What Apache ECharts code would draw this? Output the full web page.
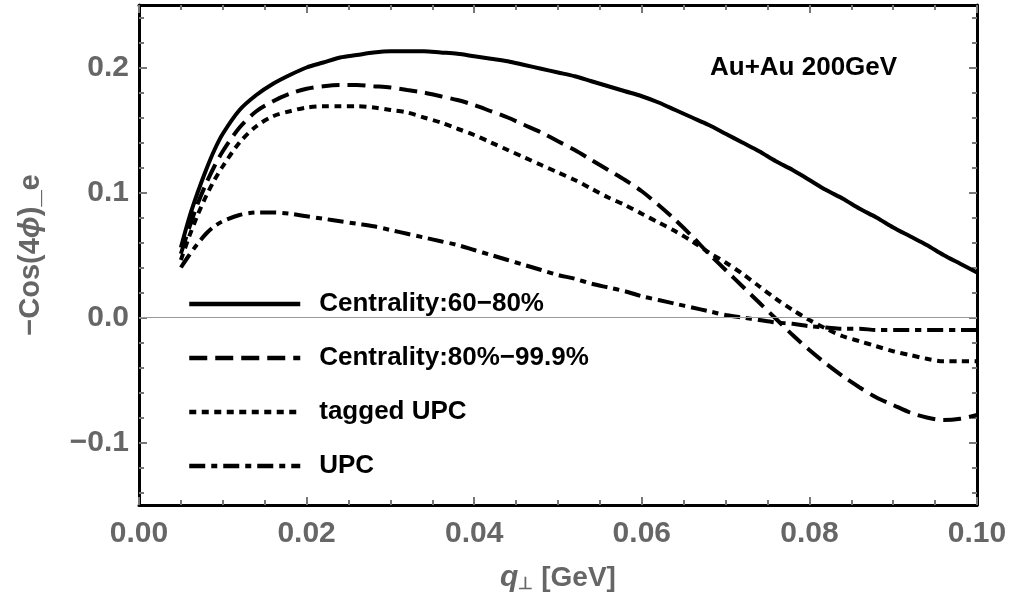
<!DOCTYPE html>
<html>
<head>
<meta charset="utf-8">
<script src="https://cdn.jsdelivr.net/npm/echarts@6/dist/echarts.min.js"></script>
<style>
html,body{margin:0;padding:0;background:#fff;}
#chart{width:1014px;height:604px;}
</style>
</head>
<body>
<div id="chart"></div>
<script>
// ---- data ----
var qValues = [0.005,0.006,0.007,0.008,0.009,0.010,0.012,0.014,0.016,0.018,0.020,0.022,0.024,0.026,0.028,0.030,0.032,0.034,0.036,0.038,0.040,0.042,0.044,0.046,0.048,0.050,0.052,0.054,0.056,0.058,0.060,0.062,0.064,0.066,0.068,0.070,0.072,0.074,0.076,0.078,0.080,0.082,0.084,0.086,0.088,0.090,0.092,0.094,0.096,0.098,0.100];

var central6080 = [0.056,0.080,0.100,0.118,0.134,0.147,0.166,0.178,0.187,0.194,0.200,0.204,0.208,0.210,0.212,0.213,0.213,0.213,0.212,0.211,0.209,0.207,0.205,0.202,0.199,0.196,0.193,0.189,0.185,0.181,0.177,0.172,0.166,0.160,0.154,0.147,0.140,0.133,0.125,0.118,0.110,0.102,0.095,0.087,0.080,0.072,0.065,0.058,0.050,0.043,0.036];

var central80999 = [0.051,0.072,0.091,0.107,0.121,0.133,0.152,0.165,0.173,0.179,0.183,0.185,0.186,0.186,0.185,0.184,0.182,0.180,0.177,0.174,0.170,0.165,0.160,0.154,0.148,0.141,0.134,0.126,0.118,0.110,0.101,0.090,0.078,0.065,0.051,0.038,0.025,0.012,-0.001,-0.014,-0.026,-0.037,-0.047,-0.056,-0.064,-0.070,-0.076,-0.080,-0.082,-0.081,-0.078];

var taggedUPC = [0.046,0.065,0.082,0.097,0.110,0.121,0.140,0.153,0.161,0.165,0.168,0.169,0.169,0.169,0.168,0.166,0.164,0.160,0.156,0.151,0.146,0.140,0.134,0.128,0.122,0.116,0.110,0.103,0.096,0.090,0.083,0.076,0.069,0.061,0.052,0.044,0.035,0.025,0.015,0.006,-0.002,-0.009,-0.015,-0.019,-0.023,-0.027,-0.030,-0.033,-0.035,-0.035,-0.035];

var upc = [0.040,0.050,0.059,0.067,0.073,0.077,0.082,0.084,0.084,0.083,0.081,0.079,0.077,0.075,0.073,0.070,0.067,0.064,0.061,0.058,0.054,0.050,0.046,0.042,0.038,0.034,0.031,0.027,0.024,0.021,0.017,0.014,0.011,0.008,0.005,0.002,0.000,-0.002,-0.004,-0.005,-0.007,-0.008,-0.009,-0.009,-0.010,-0.010,-0.010,-0.010,-0.010,-0.010,-0.010];

var seriesNames = ['Centrality:60\u221280%','Centrality:80%\u221299.9%','tagged UPC','UPC'];
var yMajorTicks = [-0.1,0,0.1,0.2];
var yMinorTicks = [-0.14,-0.12,-0.08,-0.06,-0.04,-0.02,0.02,0.04,0.06,0.08,0.12,0.14,0.16,0.18,0.22,0.24];

function pairs(vals){ return qValues.map(function(q,i){ return [q, vals[i]]; }); }

var FONT = '"Liberation Sans", Arial, sans-serif';
var GRAY = '#666666';
var TICKGRAY = '#777777';

function yFmt(v){
  var s = Math.abs(v).toFixed(1);
  return v < -1e-9 ? '\u2212' + s : s;
}

var frameLine = {show:true, onZero:false, lineStyle:{color:'#000', width:3}};
var noLine = {show:false, onZero:false};

var chart = echarts.init(document.getElementById('chart'), null, {renderer:'canvas'});

var lineStyles = [
  {color:'#000', width:4, type:'solid'},
  {color:'#000', width:4, type:[18,8]},
  {color:'#000', width:4, type:[7,5.5]},
  {color:'#000', width:4, type:[16,6,6,6]}
];
var dataSets = [central6080, central80999, taggedUPC, upc];

var series = dataSets.map(function(d,i){
  return {
    name: seriesNames[i],
    type: 'line',
    data: pairs(d),
    symbol: 'none',
    smooth: 0.3,
    lineStyle: lineStyles[i],
    itemStyle: {color:'#000'},
    z: 3
  };
});
series[0].markLine = {
  silent: true,
  symbol: 'none',
  label: {show:false},
  lineStyle: {color:'#999', width:1.2, type:'solid'},
  data: [{yAxis: 0}],
  animation: false
};

chart.setOption({
  animation: false,
  backgroundColor: '#fff',
  grid: {left:139, right:37, top:5, bottom:99, containLabel:false},
  legend: {
    orient: 'vertical',
    left: 182,
    top: 284,
    itemWidth: 111,
    itemHeight: 14,
    itemGap: 24,
    data: seriesNames,
    itemStyle: {opacity: 0},
    lineStyle: {width: 4.5, color:'#000'},
    textStyle: {fontFamily: FONT, fontWeight:'bold', fontSize:26, color:'#000', lineHeight:30, padding:[0,0,0,14]},
    selectedMode: false
  },
  xAxis: [
    {
      type:'value', min:0, max:0.1, interval:0.02, position:'bottom',
      axisLine: frameLine,
      axisTick: {show:true, inside:true, length:8, lineStyle:{color:TICKGRAY, width:2}},
      minorTick: {show:true, splitNumber:4, length:5, lineStyle:{color:TICKGRAY, width:2}},
      splitLine: {show:false},
      axisLabel: {show:true, margin:14, color:GRAY, fontFamily:FONT, fontWeight:'bold', fontSize:30,
        formatter: function(v){ return v.toFixed(2); }},
      name: '{i|q}{s|\u22a5} [GeV]',
      nameLocation: 'middle',
      nameGap: 58,
      nameTextStyle: {
        color: GRAY, fontFamily: FONT, fontWeight:'bold', fontSize:28,
        rich: {
          i: {fontStyle:'italic', fontWeight:'bold', fontSize:30, color:GRAY, fontFamily:FONT},
          s: {fontSize:17, color:GRAY, fontWeight:'bold', fontFamily:FONT, verticalAlign:'bottom', padding:[12,0,0,0]}
        }
      }
    },
    {
      type:'value', min:0, max:0.1, interval:0.02, position:'top',
      axisLine: frameLine,
      axisTick: {show:true, inside:true, length:8, lineStyle:{color:TICKGRAY, width:2}},
      minorTick: {show:true, splitNumber:4, length:5, lineStyle:{color:TICKGRAY, width:2}},
      splitLine: {show:false},
      axisLabel: {show:false}
    }
  ],
  yAxis: [
    {
      type:'value', min:-0.15, max:0.25, position:'left',
      axisLine: frameLine,
      axisTick: {show:true, inside:true, length:8, customValues: yMajorTicks, lineStyle:{color:TICKGRAY, width:2}},
      splitLine: {show:false},
      axisLabel: {show:true, customValues: yMajorTicks, margin:10, color:GRAY, fontFamily:FONT, fontWeight:'bold', fontSize:30,
        formatter: yFmt},
      name: '{a|\u2212Cos(4}{b|\u03d5}{a|)_e}',
      nameLocation: 'middle',
      nameRotate: 90,
      nameGap: 94,
      nameTextStyle: {
        color: GRAY, fontFamily: FONT, fontWeight:'bold', fontSize:29,
        rich: {
          a: {color:GRAY, fontFamily:FONT, fontWeight:'bold', fontSize:29},
          b: {color:GRAY, fontFamily:FONT, fontWeight:'bold', fontStyle:'italic', fontSize:29}
        }
      }
    },
    {
      type:'value', min:-0.15, max:0.25, position:'left',
      axisLine: noLine,
      axisTick: {show:true, inside:true, length:5, customValues: yMinorTicks, lineStyle:{color:TICKGRAY, width:2}},
      splitLine: {show:false},
      axisLabel: {show:false}
    },
    {
      type:'value', min:-0.15, max:0.25, position:'right',
      axisLine: frameLine,
      axisTick: {show:true, inside:true, length:8, customValues: yMajorTicks, lineStyle:{color:TICKGRAY, width:2}},
      splitLine: {show:false},
      axisLabel: {show:false}
    },
    {
      type:'value', min:-0.15, max:0.25, position:'right',
      axisLine: noLine,
      axisTick: {show:true, inside:true, length:5, customValues: yMinorTicks, lineStyle:{color:TICKGRAY, width:2}},
      splitLine: {show:false},
      axisLabel: {show:false}
    }
  ],
  graphic: [
    {
      type: 'text',
      left: 710,
      top: 55,
      style: {text:'Au+Au 200GeV', fill:'#000', font:'bold 26px ' + FONT}
    }
  ],
  series: series
});
</script>
</body>
</html>
